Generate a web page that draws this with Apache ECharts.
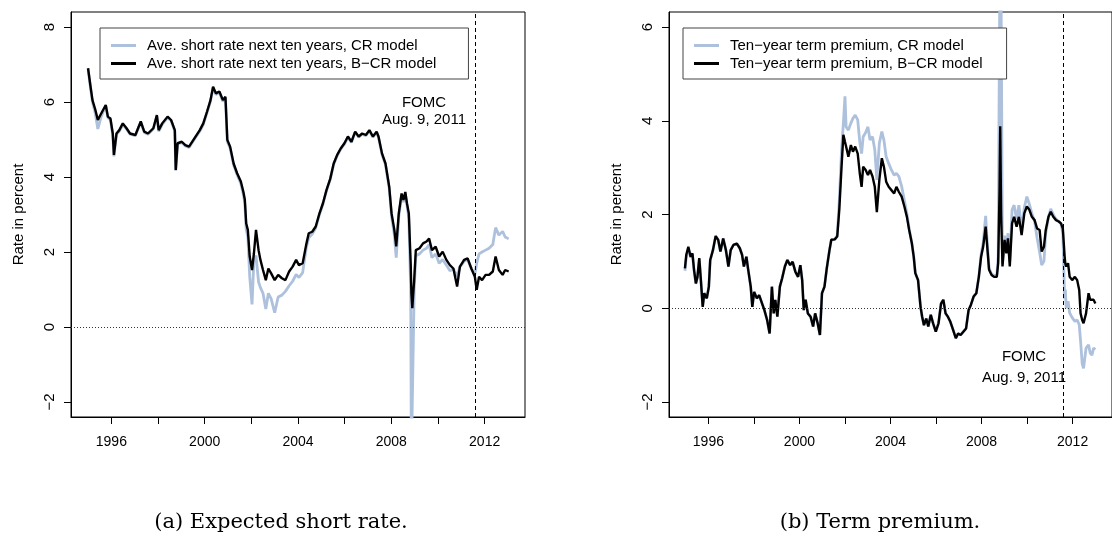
<!DOCTYPE html>
<html><head><meta charset="utf-8">
<script src="https://cdn.jsdelivr.net/npm/echarts@6/dist/echarts.min.js"></script>
<style>html,body{margin:0;padding:0;background:#fff}#c{width:1112px;height:539px}</style>
</head><body><div id="c"></div>
<script>
// ---------- Panel (a): expected short rate ----------
const yearsA = [1995.00,1995.11,1995.19,1995.31,1995.42,1995.57,1995.76,1995.85,1995.96,1996.06,1996.11,1996.22,1996.34,1996.49,1996.65,1996.80,1997.03,1997.26,1997.41,1997.57,1997.80,1997.95,1998.03,1998.18,1998.41,1998.56,1998.72,1998.76,1998.84,1999.02,1999.17,1999.33,1999.56,1999.79,1999.94,2000.10,2000.25,2000.36,2000.48,2000.63,2000.78,2000.89,2000.97,2001.09,2001.24,2001.39,2001.55,2001.66,2001.72,2001.78,2001.85,2001.93,2002.03,2002.11,2002.20,2002.31,2002.39,2002.50,2002.62,2002.73,2002.85,2003.00,2003.15,2003.31,2003.46,2003.62,2003.77,2003.92,2004.04,2004.20,2004.35,2004.46,2004.61,2004.76,2004.92,2005.07,2005.22,2005.38,2005.53,2005.68,2005.83,2005.99,2006.14,2006.29,2006.45,2006.60,2006.75,2006.91,2007.06,2007.21,2007.37,2007.45,2007.60,2007.75,2007.91,2008.01,2008.13,2008.21,2008.32,2008.44,2008.52,2008.60,2008.67,2008.75,2008.83,2008.86,2008.90,2008.93,2008.98,2009.05,2009.21,2009.36,2009.51,2009.62,2009.74,2009.90,2010.05,2010.20,2010.36,2010.51,2010.66,2010.82,2010.94,2011.12,2011.27,2011.43,2011.58,2011.66,2011.76,2011.89,2012.04,2012.19,2012.35,2012.47,2012.61,2012.77,2012.88,2013.03];
const shortRateBCR = [6.90,6.40,6.05,5.80,5.52,5.70,5.92,5.61,5.56,5.16,4.59,5.16,5.25,5.43,5.30,5.16,5.12,5.48,5.21,5.16,5.30,5.65,5.25,5.43,5.61,5.52,5.25,4.19,4.90,4.94,4.85,4.81,5.03,5.25,5.43,5.74,6.05,6.41,6.23,6.28,6.05,6.14,4.99,4.81,4.36,4.10,3.88,3.60,3.40,2.76,2.59,1.88,1.52,1.96,2.59,2.05,1.79,1.52,1.25,1.56,1.43,1.25,1.39,1.30,1.25,1.48,1.61,1.79,1.65,1.70,2.19,2.50,2.54,2.68,3.03,3.30,3.65,3.95,4.36,4.59,4.76,4.90,5.08,4.94,5.21,5.08,5.16,5.12,5.25,5.08,5.21,5.08,4.63,4.36,3.74,3.03,2.59,2.15,3.03,3.56,3.39,3.60,3.30,3.03,1.70,0.90,0.50,0.80,1.25,2.05,2.10,2.23,2.28,2.36,2.05,2.14,1.88,2.01,1.79,1.65,1.56,1.08,1.61,1.79,1.83,1.56,1.34,0.99,1.34,1.25,1.39,1.39,1.48,1.88,1.52,1.39,1.52,1.48];
const shortRateCR = [6.90,6.35,6.00,5.70,5.28,5.62,5.90,5.58,5.52,5.12,4.55,5.14,5.22,5.40,5.28,5.14,5.10,5.46,5.19,5.14,5.28,5.62,5.22,5.40,5.58,5.50,5.22,4.17,4.88,4.92,4.83,4.79,5.01,5.22,5.40,5.72,6.02,6.38,6.20,6.25,6.02,6.10,4.95,4.77,4.32,4.06,3.82,3.52,3.30,2.60,2.40,1.35,0.60,1.80,1.90,1.20,1.05,0.90,0.48,0.90,0.75,0.38,0.80,0.85,0.95,1.10,1.22,1.40,1.32,1.45,2.10,2.38,2.48,2.64,3.00,3.28,3.63,3.93,4.34,4.57,4.74,4.88,5.06,4.92,5.19,5.06,5.14,5.10,5.23,5.06,5.19,5.06,4.60,4.33,3.70,2.95,2.45,1.85,2.95,3.50,3.33,3.55,3.25,2.90,1.00,-3.50,-3.50,-3.50,1.00,1.90,1.95,2.05,2.10,2.20,1.85,1.95,1.70,1.80,1.65,1.50,1.55,1.35,1.60,1.75,1.80,1.55,1.40,1.70,1.95,2.00,2.05,2.10,2.20,2.65,2.45,2.55,2.40,2.35];

// ---------- Panel (b): term premium ----------
const yearsB = [1994.97,1995.03,1995.12,1995.22,1995.30,1995.37,1995.45,1995.52,1995.60,1995.67,1995.75,1995.82,1995.93,1996.02,1996.08,1996.20,1996.32,1996.43,1996.53,1996.65,1996.77,1996.88,1996.98,1997.10,1997.25,1997.38,1997.48,1997.56,1997.67,1997.74,1997.86,1997.93,1998.01,1998.13,1998.23,1998.36,1998.46,1998.58,1998.69,1998.79,1998.87,1998.94,1999.03,1999.14,1999.24,1999.36,1999.47,1999.59,1999.70,1999.82,1999.94,2000.04,2000.12,2000.19,2000.27,2000.37,2000.49,2000.60,2000.69,2000.80,2000.90,2000.99,2001.10,2001.20,2001.32,2001.40,2001.55,2001.66,2001.75,2001.85,2001.93,2002.00,2002.05,2002.15,2002.26,2002.35,2002.45,2002.56,2002.65,2002.73,2002.80,2002.91,2003.01,2003.10,2003.21,2003.31,2003.40,2003.51,2003.62,2003.71,2003.81,2003.92,2004.04,2004.16,2004.26,2004.37,2004.49,2004.61,2004.72,2004.82,2004.94,2005.02,2005.09,2005.21,2005.32,2005.39,2005.47,2005.57,2005.66,2005.77,2005.87,2005.99,2006.11,2006.22,2006.32,2006.42,2006.52,2006.63,2006.75,2006.87,2006.97,2007.08,2007.20,2007.32,2007.43,2007.53,2007.65,2007.77,2007.88,2007.98,2008.07,2008.18,2008.25,2008.33,2008.44,2008.55,2008.67,2008.73,2008.79,2008.82,2008.86,2008.92,2009.01,2009.09,2009.16,2009.24,2009.34,2009.43,2009.54,2009.64,2009.76,2009.88,2009.99,2010.10,2010.21,2010.33,2010.44,2010.55,2010.64,2010.74,2010.82,2010.94,2011.04,2011.15,2011.27,2011.39,2011.49,2011.57,2011.65,2011.68,2011.72,2011.80,2011.87,2011.98,2012.10,2012.20,2012.29,2012.35,2012.42,2012.48,2012.59,2012.70,2012.77,2012.85,2012.92,2013.00];
const termPremiumBCR = [0.85,1.14,1.31,1.10,1.17,0.82,0.53,0.67,1.07,0.60,0.03,0.32,0.21,0.46,1.03,1.24,1.54,1.46,1.21,1.49,1.24,0.89,1.24,1.35,1.38,1.28,1.14,0.89,1.10,0.85,0.46,0.03,0.35,0.21,0.28,0.10,-0.04,-0.25,-0.54,0.46,-0.11,0.18,-0.18,0.46,0.64,0.89,1.03,0.92,0.99,0.78,0.67,0.92,0.60,-0.04,0.18,-0.11,-0.18,-0.39,-0.11,-0.32,-0.57,0.32,0.46,0.85,1.24,1.46,1.47,1.53,2.10,3.02,3.70,3.55,3.45,3.23,3.48,3.34,3.45,3.30,2.88,2.59,3.02,2.95,2.84,2.95,2.81,2.59,2.05,2.74,3.20,3.02,2.70,2.59,2.52,2.45,2.59,2.48,2.38,2.17,1.95,1.67,1.38,1.10,0.75,0.60,0.03,-0.18,-0.36,-0.22,-0.39,-0.14,-0.32,-0.50,-0.32,0.10,0.18,-0.11,-0.18,-0.29,-0.46,-0.64,-0.54,-0.57,-0.50,-0.43,-0.04,0.07,0.25,0.32,0.67,1.10,1.31,1.74,1.31,0.82,0.71,0.67,0.67,0.96,2.50,3.88,2.00,0.89,1.46,1.17,1.49,0.89,1.81,1.95,1.74,1.95,1.56,2.03,2.17,2.10,1.95,1.88,1.70,1.67,1.21,1.31,1.67,1.95,2.06,1.95,1.88,1.85,1.81,1.70,1.10,0.95,0.89,0.96,0.67,0.60,0.67,0.60,0.39,-0.11,-0.25,-0.32,-0.11,0.32,0.18,0.14,0.18,0.10];
const termPremiumCR = [0.80,1.10,1.28,1.08,1.15,0.80,0.52,0.66,1.05,0.60,0.05,0.32,0.22,0.46,1.02,1.24,1.54,1.46,1.21,1.49,1.24,0.89,1.24,1.35,1.38,1.28,1.14,0.89,1.10,0.85,0.46,0.03,0.35,0.21,0.28,0.10,-0.04,-0.25,-0.54,0.46,-0.11,0.18,-0.18,0.46,0.64,0.89,1.03,0.92,0.99,0.78,0.67,0.92,0.60,-0.04,0.18,-0.11,-0.18,-0.39,-0.11,-0.32,-0.57,0.32,0.46,0.85,1.24,1.46,1.47,1.55,2.30,3.38,3.95,4.52,3.87,3.80,3.95,4.05,4.12,4.02,3.55,3.30,3.66,3.75,3.87,3.59,3.66,3.38,2.74,3.52,3.77,3.59,3.23,3.09,2.95,2.84,2.88,2.81,2.60,2.30,2.02,1.70,1.38,1.10,0.75,0.60,0.03,-0.18,-0.36,-0.22,-0.39,-0.14,-0.32,-0.50,-0.32,0.10,0.18,-0.11,-0.18,-0.29,-0.46,-0.64,-0.54,-0.57,-0.50,-0.43,-0.04,0.07,0.25,0.32,0.67,1.15,1.40,1.97,1.40,0.85,0.73,0.70,0.70,1.10,6.00,7.50,6.50,0.95,1.55,1.25,1.60,1.00,2.10,2.20,1.90,2.20,1.70,2.15,2.38,2.22,2.02,1.85,1.50,1.20,0.92,1.00,1.60,1.95,2.12,2.00,1.90,1.85,1.80,1.60,0.20,0.40,0.00,0.15,-0.10,-0.20,-0.28,-0.25,-0.35,-0.70,-1.18,-1.28,-0.85,-0.78,-0.95,-1.00,-0.85,-0.88];

// ---------- axes / labels ----------
const xTicks = [1996,1998,2000,2002,2004,2006,2008,2010,2012];
const xTickLabels = [1996,2000,2004,2008,2012];
const yTicksA = [-2,0,2,4,6,8];
const yTicksB = [-2,0,2,4,6];
const fomcDate = 2011.61;
const namesA = ['Ave. short rate next ten years, CR model','Ave. short rate next ten years, B\u2212CR model'];
const namesB = ['Ten\u2212year term premium, CR model','Ten\u2212year term premium, B\u2212CR model'];
const captions = ['(a) Expected short rate.','(b) Term premium.'];
const fomcText = ['FOMC','Aug. 9, 2011'];
const yTitle = 'Rate in percent';

const LIGHT = '#adc0dc', DARK = '#000000';
const SANS = '"Liberation Sans", Arial, Helvetica, sans-serif';
const zip = (xs, ys) => xs.map((x, i) => [x, ys[i]]);

function xAxisFor(g){
  return {type:'value', gridIndex:g, min:1994.27, max:2013.73,
    axisLine:{show:true, onZero:false, lineStyle:{color:'#000', width:1}},
    axisTick:{show:true, customValues:xTicks, length:7, lineStyle:{color:'#000'}},
    axisLabel:{customValues:xTickLabels, formatter:v=>String(v), color:'#000', fontSize:14, fontFamily:SANS, margin:18},
    splitLine:{show:false}};
}
function yAxisFor(g, mn, mx, ticks){
  return {type:'value', gridIndex:g, min:mn, max:mx,
    name:yTitle, nameLocation:'middle', nameGap:45, nameRotate:90,
    nameTextStyle:{color:'#000', fontSize:15, fontFamily:SANS},
    axisLine:{show:true, onZero:false, lineStyle:{color:'#000', width:1}},
    axisTick:{show:true, customValues:ticks, length:7, lineStyle:{color:'#000'}},
    axisLabel:{customValues:ticks, rotate:90, formatter:v=>String(v).replace('-','\u2212'), color:'#000', fontSize:15, fontFamily:SANS, margin:14},
    splitLine:{show:false}};
}
function lineSeries(name, g, data, color, width, marks){
  const s = {type:'line', name, xAxisIndex:g, yAxisIndex:g, data, showSymbol:false, symbol:'none',
    clip:true, lineStyle:{color, width}, itemStyle:{color}, animation:false, z: color===DARK?3:2};
  if (marks) s.markLine = {silent:true, symbol:['none','none'], label:{show:false}, animation:false,
    data:[{yAxis:0, lineStyle:{type:[1,2], color:'#333', width:1}},
          {xAxis:fomcDate, lineStyle:{type:[4,3], color:'#000', width:1}}]};
  return s;
}
function legendFor(g, names, left, padRight){
  return {data:names, orient:'vertical', left, top:28, padding:[10,padRight,8,11], itemGap:3,
    itemWidth:25, itemHeight:3, icon:'rect', borderColor:'#444', borderWidth:1, borderRadius:0,
    backgroundColor:'#fff', selectedMode:false,
    textStyle:{color:'#000', fontSize:15, fontFamily:SANS, padding:[0,0,0,6]}};
}
function txt(text, x, y, size, family){
  return {type:'text', x, y, silent:true, z:100,
    style:{text, fill:'#000', font: size+'px '+family, align:'center', verticalAlign:'middle', textAlign:'center', textVerticalAlign:'middle'}};
}

const chart = echarts.init(document.getElementById('c'), null, {renderer:'canvas'});
chart.setOption({
  animation:false,
  backgroundColor:'#fff',
  grid:[{left:71, top:12, width:454, height:405, show:true, borderColor:'#000', borderWidth:1, containLabel:false},
        {left:669, top:12, width:454, height:405, show:true, borderColor:'#000', borderWidth:1, containLabel:false}],
  xAxis:[xAxisFor(0), xAxisFor(1)],
  yAxis:[yAxisFor(0,-2.4,8.4,yTicksA), yAxisFor(1,-2.32,6.32,yTicksB)],
  legend:[legendFor(0, namesA, 100, 32), legendFor(1, namesB, 683, 24)],
  series:[
    lineSeries(namesA[0], 0, zip(yearsA, shortRateCR), LIGHT, 2.8, false),
    lineSeries(namesA[1], 0, zip(yearsA, shortRateBCR), DARK, 2.4, true),
    lineSeries(namesB[0], 1, zip(yearsB, termPremiumCR), LIGHT, 2.8, false),
    lineSeries(namesB[1], 1, zip(yearsB, termPremiumBCR), DARK, 2.4, true)
  ],
  graphic:[
    txt(fomcText[0], 424, 103, 15, SANS), txt(fomcText[1], 424, 120, 15, SANS),
    txt(fomcText[0], 1024, 357, 15, SANS), txt(fomcText[1], 1024, 378, 15, SANS),
    txt(captions[0], 281, 523, 21, '"DejaVu Serif", serif'),
    txt(captions[1], 880, 523, 21, '"DejaVu Serif", serif')
  ]
});
</script></body></html>
